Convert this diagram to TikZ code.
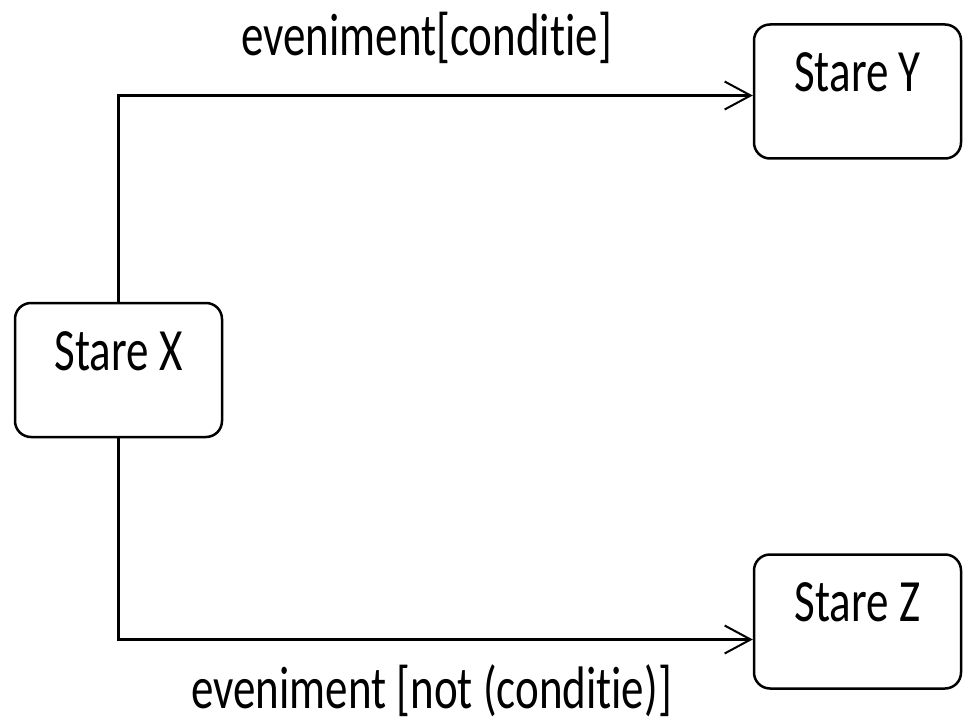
\documentclass[tikz,border=0pt]{standalone}
\usepackage{fontspec}
\setmainfont{Carlito}[FakeStretch=0.75,Ligatures=NoCommon]
\usetikzlibrary{arrows.meta,positioning}

\begin{document}
\begin{tikzpicture}[x=1pt,y=-1pt,
  stare/.style={draw, rounded corners=16pt, line width=2.5pt, minimum width=207pt, minimum height=134pt, inner sep=0pt},
  trans/.style={-{Straight Barb[length=26pt,width=28pt,line width=2pt]}, line width=2.5pt},
  eticheta/.style={font=\fontsize{60}{72}\selectfont, anchor=base, inner sep=0pt},
  numestare/.style={font=\fontsize{60}{72}\selectfont, inner sep=0pt, yshift=19pt}
]
  \useasboundingbox (0,0) rectangle (963,727);

  % Stari
  \node[stare, label={[numestare]center:Stare X}] (X) at (118.5,370) {};
  \node[stare, label={[numestare]center:Stare Y}] (Y) at (857.5,91.5) {};
  \node[stare, label={[numestare]center:Stare Z}] (Z) at (857.5,621.5) {};

  % Tranzitii
  \draw[trans] (X.north) |- ([yshift=-4pt]Y.west)
    node[eticheta, pos=0.75, xshift=-9pt, yshift=40pt] {eveniment[conditie]};
  \draw[trans] (X.south) |- ([yshift=-18pt]Z.west)
    node[eticheta, pos=0.75, xshift=-4pt, yshift=-69pt] {eveniment [not (conditie)]};
\end{tikzpicture}
\end{document}
